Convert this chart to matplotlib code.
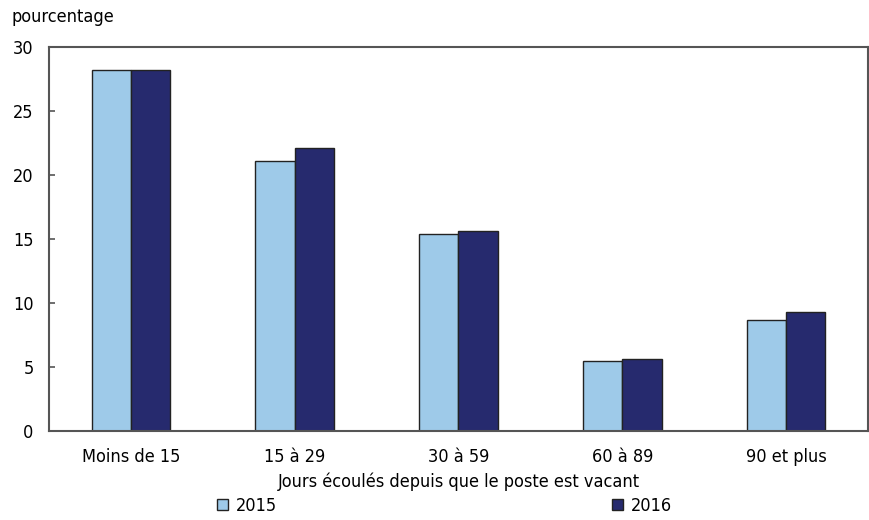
import matplotlib
matplotlib.use('Agg')
import matplotlib.pyplot as plt
from matplotlib import font_manager as fm
import numpy as np
from matplotlib.patches import Patch

# ==================================== data ====================================
categories = ['Moins de 15', '15 à 29', '30 à 59', '60 à 89', '90 et plus']
vals_2015 = [28.2, 21.1, 15.4, 5.5, 8.7]
vals_2016 = [28.2, 22.1, 15.6, 5.6, 9.3]
series_names = ['2015', '2016']
yticks = [0, 5, 10, 15, 20, 25, 30]

# pick a narrow font if there is one (reference uses a condensed grotesque)
narrow = [f for f in fm.fontManager.ttflist
          if f.stretch in ('condensed', 'semi-condensed', 'extra-condensed')
          or 'Narrow' in f.name or 'Condensed' in f.name]
if narrow:
    fam = narrow[0].name
    stretch = narrow[0].stretch
else:
    fam = 'Liberation Sans'
    stretch = 'normal'
plt.rcParams['font.family'] = [fam, 'DejaVu Sans']
plt.rcParams['font.stretch'] = stretch
plt.rcParams['font.size'] = 13

c15 = '#9ecae9'
c16 = '#262a6e'
edge = '#222222'

fig = plt.figure(figsize=(8.69, 5.20), dpi=100)
ax = fig.add_axes([0.0564, 0.1712, 0.9424, 0.7384])

x = np.arange(len(categories))
w = 0.24
ax.bar(x - w / 2, vals_2015, w, color=c15, edgecolor=edge, linewidth=1.0)
ax.bar(x + w / 2, vals_2016, w, color=c16, edgecolor=edge, linewidth=1.0)

ax.set_xlim(-0.5, len(categories) - 0.5)
ax.set_ylim(0, 30)
ax.set_yticks(yticks)
ax.set_xticks(x)
ax.set_xticklabels(categories)
ax.tick_params(axis='y', direction='in', length=4, width=1.2, color='#555555', pad=11)
ax.tick_params(axis='x', length=0, pad=12)
for s in ax.spines.values():
    s.set_color('#555555')
    s.set_linewidth(1.5)

ax.set_xlabel('Jours écoulés depuis que le poste est vacant', labelpad=5)
fig.text(0.0135, 0.967, 'pourcentage', ha='left', va='center')

# legend entries placed separately, one under each side
h15 = [Patch(facecolor=c15, edgecolor=edge, linewidth=1.0)]
h16 = [Patch(facecolor=c16, edgecolor=edge, linewidth=1.0)]
kw = dict(frameon=False, handlelength=0.6, handleheight=0.6, handletextpad=0.45,
          borderaxespad=0, borderpad=0, loc='center left')
fig.legend(h15, [series_names[0]], bbox_to_anchor=(0.250, 0.027), **kw)
fig.legend(h16, [series_names[1]], bbox_to_anchor=(0.704, 0.027), **kw)

fig.savefig('out.png', dpi=100)
